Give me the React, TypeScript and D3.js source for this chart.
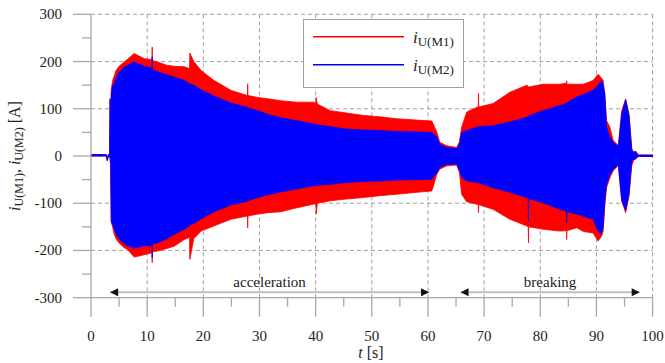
import React from 'react';
import * as d3 from 'd3';

// envelope of the two phase currents (t in s, values in A)
const time = [0, 2.7, 2.9, 3.1, 3.3, 3.4, 3.5, 3.6, 3.85, 4.15, 4.45, 5.0, 5.9, 6.5, 7.7, 9.5, 10.85, 10.9, 10.95, 11.9, 13.5, 14.8, 16.6, 17.55, 17.6, 18.3, 19.6, 21.9, 24.9, 27.85, 27.9, 27.95, 29.7, 31.5, 33.8, 36.5, 39.6, 40.05, 40.1, 40.3, 42.6, 45.5, 48.5, 51.4, 54.4, 58.0, 60.7, 61.6, 62.1, 63.3, 65.1, 65.6, 66.0, 66.9, 68.7, 68.95, 69.0, 69.05, 71.6, 74.6, 77.6, 77.85, 77.9, 77.95, 80.5, 83.5, 84.65, 84.7, 84.75, 86.5, 87.7, 89.4, 90.3, 90.9, 91.2, 91.5, 91.8, 92.4, 93.0, 93.9, 94.5, 95.2, 95.8, 96.3, 96.7, 97.0, 97.4, 100];
const m1Max = [3, 3, -6, 3, 3, 121, 20, 140, 160, 170, 181, 190, 199, 205, 217, 206, 204, 231, 202, 199, 192, 190, 189, 185, 218, 200, 181, 160, 139, 128, 153, 128, 124, 121, 117, 114, 114, 112, 124, 110, 96, 91, 86, 83, 79, 76, 74, 50, 29, 22, 18, 30, 61, 93, 103, 104, 133, 104, 111, 135, 150, 148, 143, 146, 152, 152, 154, 159, 152, 152, 152, 160, 173, 165, 160, 125, 75, 61, 33, 22, 96, 121, 89, 15, 8, 10, 2, 2];
const m1Min = [0, 0, -10, 0, 0, -5, -20, -140, -150, -166, -175, -184, -194, -198, -214, -209, -205, -226, -203, -201, -196, -191, -177, -172, -219, -175, -159, -148, -134, -127, -152, -127, -123, -120, -118, -110, -102, -101, -123, -100, -95, -91, -88, -84, -81, -77, -74, -38, -28, -21, -19, -35, -81, -97, -102, -103, -120, -103, -113, -134, -148, -150, -184, -150, -155, -159, -158, -177, -158, -152, -160, -163, -180, -170, -159, -102, -67, -46, -31, -20, -95, -120, -85, -20, -8, -6, -1, -1];
const m2Max = [3, 3, -6, 3, 3, 121, 20, 130, 150, 153, 165, 178, 188, 192, 199, 190, 186, 210, 183, 178, 172, 167, 160, 153, 153, 150, 140, 127, 112, 103, 103, 102, 96, 88, 81, 75, 68, 67, 68, 66, 62, 57, 55, 54, 52, 51, 50, 40, 25, 18, 16, 25, 50, 54, 61, 61, 61, 62, 64, 72, 82, 83, 84, 85, 96, 107, 111, 112, 113, 125, 130, 139, 150, 160, 150, 132, 61, 40, 29, 20, 89, 119, 85, 10, 8, 10, 2, 2];
const m2Min = [0, 0, -10, 0, 0, -5, -20, -138, -145, -155, -165, -175, -186, -190, -195, -190, -190, -215, -186, -184, -175, -166, -155, -148, -146, -143, -133, -118, -104, -96, -96, -95, -88, -82, -76, -70, -63, -63, -63, -62, -60, -56, -54, -53, -51, -50, -49, -35, -24, -18, -17, -30, -45, -53, -56, -56, -56, -57, -67, -77, -88, -90, -138, -90, -99, -113, -117, -141, -118, -123, -128, -134, -159, -166, -150, -95, -60, -40, -28, -18, -95, -115, -80, -8, -8, -6, -1, -1];

const xMajor = [0, 10, 20, 30, 40, 50, 60, 70, 80, 90, 100];
const xMinor = [5, 15, 25, 35, 45, 55, 65, 75, 85, 95];
const yMajor = [-300, -200, -100, 0, 100, 200, 300];
const yMinor = [-250, -150, -50, 50, 150, 250];

const phases = [
  { label: 'acceleration', from: 3.4, to: 60.2 },
  { label: 'breaking', from: 65.8, to: 97.7 },
];

const legendItems = [
  { color: '#ff0000', sub: 'U(M1)' },
  { color: '#0000ff', sub: 'U(M2)' },
];

const grey = '#a8a8a8';
const ink = '#222';
const tx = (size: number) => ({ fontFamily: 'Liberation Serif, serif', fontSize: size + 'px' });

const App = () => {
  const x = d3.scaleLinear().domain([0, 100]).range([91, 652.6]);
  const y = d3.scaleLinear().domain([-300, 300]).range([297.7, 14.3]);
  const idx = d3.range(time.length);
  const env = (hi: number[], lo: number[]) =>
    d3.area<number>().x(i => x(time[i])).y0(i => y(lo[i])).y1(i => y(hi[i]))(idx) || '';
  const y0 = y(-300);

  return (
    <svg width={665} height={363} style={{ position: 'absolute', left: 0, top: 0, background: '#fff' }}>
      <defs>
        <marker id="ah" viewBox="0 0 10 10" refX={10} refY={5} markerWidth={10} markerHeight={8}
          markerUnits="userSpaceOnUse" orient="auto-start-reverse">
          <path d="M0,0L10,5L0,10Z" fill="#111" />
        </marker>
      </defs>

      {/* dashed grid */}
      <g stroke="#a0a0a0" strokeDasharray="4,3" strokeWidth={1}>
        {xMajor.slice(1).map(d => (
          <line key={'v' + d} x1={x(d)} x2={x(d)} y1={y(300)} y2={y(-300)} />
        ))}
        {yMajor.slice(1).map(d => (
          <line key={'h' + d} x1={x(0)} x2={x(100)} y1={y(d)} y2={y(d)} />
        ))}
      </g>

      <path d={env(m1Max, m1Min)} fill="#ff0000" stroke="#ff0000" strokeWidth={0.8} />
      <path d={env(m2Max, m2Min)} fill="#0000ff" stroke="#0000ff" strokeWidth={0.8} />

      {/* axes */}
      <g stroke={grey} strokeWidth={1.3}>
        <line x1={x(0)} x2={x(100)} y1={y0} y2={y0} />
        <line x1={x(0)} x2={x(0)} y1={y(300)} y2={y0} />
        {xMajor.map(d => <line key={'xt' + d} x1={x(d)} x2={x(d)} y1={y0} y2={y0 + 19} />)}
        {xMinor.map(d => <line key={'xm' + d} x1={x(d)} x2={x(d)} y1={y0} y2={y0 + 9} />)}
        {yMajor.map(d => <line key={'yt' + d} x1={x(0) - 18} x2={x(0)} y1={y(d)} y2={y(d)} />)}
        {yMinor.map(d => <line key={'ym' + d} x1={x(0) - 9} x2={x(0)} y1={y(d)} y2={y(d)} />)}
      </g>
      {xMajor.map(d => (
        <text key={'xl' + d} x={x(d)} y={341} textAnchor="middle" fill={ink} style={tx(15)}>{String(d)}</text>
      ))}
      {yMajor.map(d => (
        <text key={'yl' + d} x={62} y={y(d) + 5} textAnchor="end" fill={ink} style={tx(15)}>{String(d)}</text>
      ))}

      {/* axis titles */}
      <text x={371} y={358} textAnchor="middle" fill={ink} style={tx(16)}>
        <tspan fontStyle="italic">t</tspan> [s]
      </text>
      <text transform="translate(20,156) rotate(-90)" textAnchor="middle" fill={ink} style={tx(16)}>
        <tspan fontStyle="italic">i</tspan>
        <tspan style={{ fontSize: '12px' }} dy={3}>U(M1)</tspan>
        <tspan dy={-3}>, </tspan>
        <tspan fontStyle="italic">i</tspan>
        <tspan style={{ fontSize: '12px' }} dy={3}>U(M2)</tspan>
        <tspan dy={-3}> [A]</tspan>
      </text>

      {/* legend */}
      <rect x={303.5} y={19.5} width={160} height={68} fill="#fff" stroke="#a0a0a0" strokeWidth={1} />
      {legendItems.map((d, i) => {
        const ly = 36.7 + i * 28;
        return (
          <g key={d.sub}>
            <line x1={313} x2={404} y1={ly} y2={ly} stroke={d.color} strokeWidth={1.6} />
            <text x={413} y={ly + 6} fill={ink} style={tx(17)}>
              <tspan fontStyle="italic">i</tspan>
              <tspan style={{ fontSize: '13px' }} dy={3}>{d.sub}</tspan>
            </text>
          </g>
        );
      })}

      {/* phase arrows */}
      {phases.map(p => (
        <g key={p.label}>
          <line x1={x(p.from)} x2={x(p.to)} y1={292.3} y2={292.3} stroke="#c0c0c0" strokeWidth={2}
            markerStart="url(#ah)" markerEnd="url(#ah)" />
          <text x={(x(p.from) + x(p.to)) / 2} y={287} textAnchor="middle" fill={ink} style={tx(15)}>
            {p.label}
          </text>
        </g>
      ))}
    </svg>
  );
};

export default App;
